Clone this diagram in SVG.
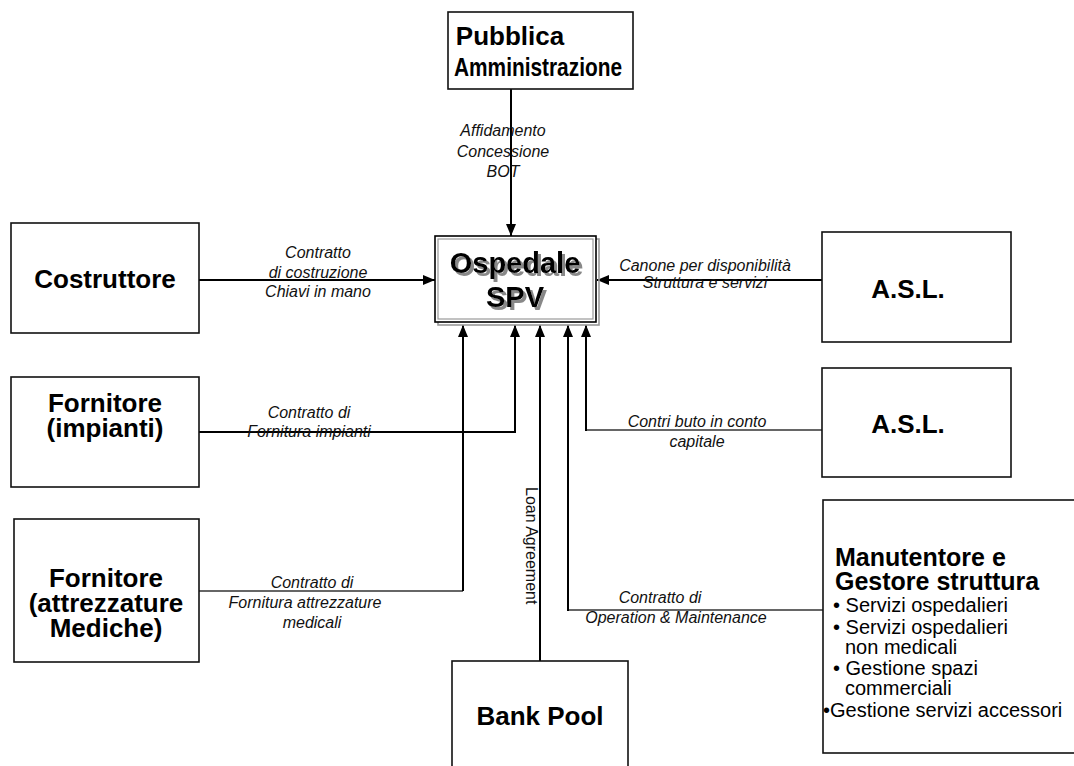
<svg xmlns="http://www.w3.org/2000/svg" width="1074" height="766" viewBox="0 0 1074 766">
<style>
.box{fill:#fff;stroke:#111;stroke-width:1.6}
.t{font-family:"Liberation Sans",Arial,sans-serif;font-weight:bold;font-size:26px;fill:#000;text-anchor:middle}
.lb{font-family:"Liberation Sans",Arial,sans-serif;font-style:italic;font-size:16px;fill:#111;text-anchor:middle}
.bl{font-family:"Liberation Sans",Arial,sans-serif;font-size:20px;fill:#000}
.c{fill:none;stroke:#000;stroke-width:2}
.thin{fill:none;stroke:#333;stroke-width:1.3}
</style>
<defs>
<marker id="ah" viewBox="0 0 12 10" refX="12" refY="5" markerWidth="12" markerHeight="10" markerUnits="userSpaceOnUse" orient="auto">
<path d="M0,0 L12,5 L0,10 Z" fill="#000"/>
</marker>
<filter id="sh" x="-10%" y="-20%" width="130%" height="150%">
<feOffset in="SourceAlpha" dx="3" dy="3" result="o"/>
<feFlood flood-color="#888"/>
<feComposite in2="o" operator="in" result="s"/>
<feMerge><feMergeNode in="s"/><feMergeNode in="SourceGraphic"/></feMerge>
</filter>
</defs>
<rect width="1074" height="766" fill="#fff"/>

<g id="connectors">
<path class="c" d="M511,89 V236" marker-end="url(#ah)"/>
<path class="c" d="M199,280 H435" marker-end="url(#ah)"/>
<path class="c" d="M822,280 H597" marker-end="url(#ah)"/>
<path class="c" d="M199,432 H515 V325" marker-end="url(#ah)"/>
<path class="thin" d="M199,591 H463"/>
<path class="c" d="M463,591 V325" marker-end="url(#ah)"/>
<path class="c" d="M540,661 V325" marker-end="url(#ah)"/>
<path class="thin" d="M823,610 H568"/>
<path class="c" d="M568,611 V325" marker-end="url(#ah)"/>
<path class="thin" d="M822,430 H586"/>
<path class="c" d="M586,431 V325" marker-end="url(#ah)"/>
<text class="lb" x="503" y="136">Affidamento</text>
<text class="lb" x="503" y="157">Concessione</text>
<text class="lb" x="503" y="177">BOT</text>
<text class="lb" x="318" y="258">Contratto</text>
<text class="lb" x="318" y="278">di costruzione</text>
<text class="lb" x="318" y="297">Chiavi in mano</text>
<text class="lb" x="705" y="271">Canone per disponibilità</text>
<text class="lb" x="705" y="288">Struttura e servizi</text>
<text class="lb" x="309" y="418">Contratto di</text>
<text class="lb" x="309" y="437">Fornitura impianti</text>
<text class="lb" x="697" y="427">Contri buto in conto</text>
<text class="lb" x="697" y="447">capitale</text>
<text class="lb" x="312" y="588">Contratto di</text>
<text class="lb" x="305" y="608">Fornitura attrezzature</text>
<text class="lb" x="312" y="628">medicali</text>
<text class="lb" x="660" y="603">Contratto di</text>
<text class="lb" x="676" y="623">Operation &amp; Maintenance</text>
<text class="lb" style="font-style:normal;text-anchor:start" transform="translate(526,487) rotate(90)">Loan Agreement</text>
</g>

<g id="pa">
<rect class="box" x="448" y="12" width="185" height="77"/>
<text class="t" x="510" y="45">Pubblica</text>
<text class="t" x="538" y="76" textLength="168" lengthAdjust="spacingAndGlyphs">Amministrazione</text>
</g>

<g id="spv">
<rect x="438" y="239" width="161" height="86" fill="none" stroke="#999" stroke-width="1.6"/>
<rect x="435" y="236" width="161" height="86" fill="#fff" stroke="#000" stroke-width="1.6"/>
<rect x="438" y="239" width="155" height="80" fill="none" stroke="#999" stroke-width="1.2"/>
<g filter="url(#sh)">
<text class="t" x="515" y="273" style="font-size:29px">Ospedale</text>
<text class="t" x="515" y="307" style="font-size:29px">SPV</text>
</g>
</g>

<g id="costruttore">
<rect class="box" x="11" y="223" width="188" height="110"/>
<text class="t" x="105" y="288">Costruttore</text>
</g>

<g id="fornitore-impianti">
<rect class="box" x="11" y="377" width="188" height="110"/>
<text class="t" x="105" y="412">Fornitore</text>
<text class="t" x="105" y="437">(impianti)</text>
</g>

<g id="fornitore-attrezzature">
<rect class="box" x="14" y="519" width="185" height="143"/>
<text class="t" x="106" y="587">Fornitore</text>
<text class="t" x="106" y="612">(attrezzature</text>
<text class="t" x="106" y="637">Mediche)</text>
</g>

<g id="asl1">
<rect class="box" x="822" y="232" width="189" height="110"/>
<text class="t" x="908" y="298">A.S.L.</text>
</g>

<g id="asl2">
<rect class="box" x="822" y="368" width="189" height="109"/>
<text class="t" x="908" y="433">A.S.L.</text>
</g>

<g id="manutentore">
<rect class="box" x="823" y="500" width="260" height="253"/>
<text class="t" x="835" y="566" style="text-anchor:start;font-size:25px">Manutentore e</text>
<text class="t" x="835" y="590" style="text-anchor:start;font-size:25px">Gestore struttura</text>
<text class="bl" x="833" y="612">• Servizi ospedalieri</text>
<text class="bl" x="833" y="634">• Servizi ospedalieri</text>
<text class="bl" x="845" y="654">non medicali</text>
<text class="bl" x="833" y="675">• Gestione spazi</text>
<text class="bl" x="845" y="695">commerciali</text>
<text class="bl" x="823" y="717">•Gestione servizi accessori</text>
</g>

<g id="bank-pool">
<rect class="box" x="452" y="661" width="176" height="120"/>
<text class="t" x="540" y="725">Bank Pool</text>
</g>
</svg>
